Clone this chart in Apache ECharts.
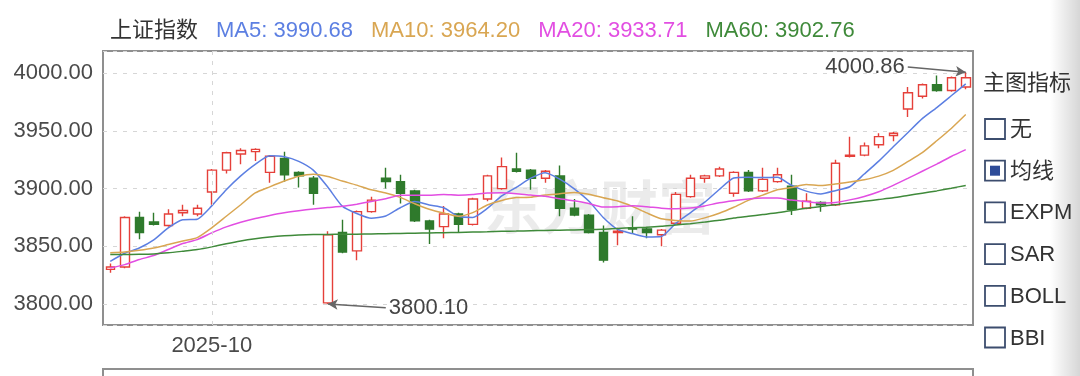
<!DOCTYPE html>
<html>
<head>
<meta charset="utf-8">
<script src="https://cdn.jsdelivr.net/npm/echarts@6/dist/echarts.min.js"></script>
<style>
html, body { margin: 0; padding: 0; background: #fff; }
#chart { width: 1080px; height: 376px; }
</style>
</head>
<body>
<div id="chart"></div>
<script>
// trading days shown on the chart
const dates = [
  '2025-09-22','2025-09-23','2025-09-24','2025-09-25','2025-09-26','2025-09-29','2025-09-30',
  '2025-10-09','2025-10-10','2025-10-13','2025-10-14','2025-10-15','2025-10-16','2025-10-17',
  '2025-10-20','2025-10-21','2025-10-22','2025-10-23','2025-10-24','2025-10-27','2025-10-28',
  '2025-10-29','2025-10-30','2025-10-31','2025-11-03','2025-11-04','2025-11-05','2025-11-06',
  '2025-11-07','2025-11-10','2025-11-11','2025-11-12','2025-11-13','2025-11-14','2025-11-17',
  '2025-11-18','2025-11-19','2025-11-20','2025-11-21','2025-11-24','2025-11-25','2025-11-26',
  '2025-11-27','2025-11-28','2025-12-01','2025-12-02','2025-12-03','2025-12-04','2025-12-05',
  '2025-12-08','2025-12-09','2025-12-10','2025-12-11','2025-12-12','2025-12-15','2025-12-16',
  '2025-12-17','2025-12-18','2025-12-19','2025-12-22'
];

const opens = [
  3830,3832,3875,3871,3868,3879,3878,3897,3916,3930,
  3932,3914,3926,3914,3909,3801,3862,3846,3880,3909,
  3906,3898,3872,3867,3878,3869,3891,3900,3917,3916,
  3909,3911,3883,3877,3862,3862,3866,3865,3860,3870,
  3893,3909,3911,3896,3914,3898,3906,3902,3883,3888,
  3886,3928,3929,3938,3946,3969,3980,3990,3985,3988
];
const closes = [
  3832,3875,3862,3869,3878,3881,3883,3916,3931,3933,
  3934,3928,3912,3911,3896,3860,3845,3880,3890,3906,
  3896,3872,3865,3878,3869,3891,3911,3919,3915,3909,
  3915,3883,3877,3862,3838,3863,3865,3862,3864,3895,
  3909,3911,3917,3914,3898,3908,3912,3882,3889,3886,
  3922,3929,3937,3945,3948,3983,3990,3985,3996,3996
];
const lows = [
  3827,3831,3856,3868,3867,3876,3876,3886,3913,3921,
  3924,3905,3906,3901,3886,3800.10,3844,3838,3879,3900,
  3887,3871,3852,3857,3862,3868,3889,3899,3914,3899,
  3905,3876,3876,3861,3836,3851,3861,3857,3850,3869,
  3892,3905,3910,3893,3897,3897,3905,3877,3882,3880,
  3885,3927,3928,3935,3941,3962,3978,3984,3984,3986
];
const highs = [
  3835,3876,3880,3879,3882,3886,3886,3917,3932,3935,
  3935,3929,3932,3915,3911,3863,3873,3881,3893,3918,
  3912,3899,3873,3885,3879,3892,3912,3927,3931,3917,
  3916,3920,3891,3878,3868,3866,3876,3867,3865,3897,
  3912,3912,3919,3915,3916,3918,3918,3912,3896,3889,
  3925,3945,3940,3948,3949,3988,3991,3998,3997,4000.86
];

const ma5 = [
  3837,3844,3848.5,3855.5,3866,3873,3873.5,3885,3899,3911,
  3921,3928.4,3927.6,3923.6,3916,3901.4,3884.8,3878.4,3874.2,3876.2,
  3883.4,3888.8,3885.8,3883.4,3876,3875,3882.8,3893.6,3901,3909,
  3913.8,3908.2,3899.8,3889.2,3875,3864.6,3861,3858,3858.4,3869.8,
  3879,3888.2,3899.2,3909.2,3909.8,3909.6,3909.8,3902.8,3897.8,3895.4,
  3898.2,3901.6,3912.6,3923.8,3936.2,3948.4,3960.6,3970.2,3980.4,3990.68
];
const ma10 = [
  3844.3,3845,3846.5,3848.5,3851.5,3854.5,3857.5,3866,3876,3886,
  3896.2,3901.5,3906.5,3910.7,3912.5,3910.4,3906.6,3903,3898.9,3896.2,
  3892.4,3886.8,3882.1,3878.8,3876.1,3879.2,3885.8,3889.7,3892.2,3892.5,
  3894.4,3895.5,3896.7,3895.1,3892,3889.2,3884.6,3878.9,3873.8,3872.4,
  3871.8,3874.6,3878.6,3883.8,3889.8,3894.3,3899,3901,3903.5,3902.6,
  3903.9,3905.7,3907.7,3910.8,3915.8,3923.3,3931.1,3941.4,3952.1,3964.20
];
const ma20 = [
  3831.2,3834.1,3838.5,3842,3847.2,3852.4,3855.8,3861.6,3866.8,3870.9,
  3874.1,3876.7,3879,3880.8,3882.3,3883.5,3884.6,3886.5,3888.8,3891.1,
  3894.3,3894.2,3894.3,3894.8,3894.3,3894.8,3896.2,3896.4,3895.6,3894.4,
  3893.4,3891.2,3889.4,3887,3884,3884.2,3885.2,3884.3,3883,3882.5,
  3883.1,3885,3887.7,3889.5,3890.9,3891.8,3891.8,3890,3888.7,3887.5,
  3887.9,3890.2,3893.2,3897.3,3902.8,3908.8,3915,3921.2,3927.8,3933.71
];
const ma60 = [
  3842.8,3842.8,3843,3843.4,3844.3,3845.7,3847.2,3849.5,3852.2,3854.6,
  3856.5,3858,3859.1,3859.8,3860.2,3860.3,3860.4,3860.5,3860.7,3860.9,
  3861.1,3861.3,3861.6,3861.8,3862,3862.3,3862.6,3863,3863.2,3863.5,
  3863.7,3864,3864.2,3864.5,3864.8,3865.5,3866,3866.5,3867.3,3868.5,
  3869.6,3871,3872.5,3874.5,3876,3877.5,3879,3881,3883,3884.5,
  3886,3887.5,3889,3890.5,3892,3894,3896,3898,3900.3,3902.76
];

const indexName = '上证指数';
const monthTicks = ['2025-10'];
const indicatorTitle = '主图指标';
const indicatorNames = ['无', '均线', 'EXPM', 'SAR', 'BOLL', 'BBI'];
const indicatorChecked = '均线';

const FONT = "'Liberation Sans', 'Noto Sans CJK SC', sans-serif";
const UP = '#e5403a';
const DOWN = '#2f7a2c';

const maList = [
  { label: 'MA5', values: ma5, color: '#5c7fe2' },
  { label: 'MA10', values: ma10, color: '#d9a652' },
  { label: 'MA20', values: ma20, color: '#e24ee2' },
  { label: 'MA60', values: ma60, color: '#3f8a3a' }
];
maList.forEach(m => { m.name = m.label + ': ' + m.values[m.values.length - 1].toFixed(2); });

const kData = dates.map((d, i) => [opens[i], closes[i], lows[i], highs[i]]);

// extreme points for the arrow annotations
const lowIdx = lows.indexOf(Math.min(...lows));
const highIdx = highs.indexOf(Math.max(...highs));

// first trading day of each labelled month
const monthStart = dates.map((d, i) =>
  monthTicks.includes(d.slice(0, 7)) && (i === 0 || dates[i - 1].slice(0, 7) !== d.slice(0, 7)));

const labelStyle = { color: '#444', fontSize: 22, fontFamily: FONT };

// right-hand indicator panel
const panel = [];
panel.push({
  type: 'text', x: 983, y: 84,
  style: { text: indicatorTitle, font: '22px ' + FONT, fill: '#333', verticalAlign: 'middle' }
});
indicatorNames.forEach((n, i) => {
  const cy = 129 + i * 41.7;
  panel.push({
    type: 'rect', shape: { x: 985, y: cy - 10, width: 20, height: 20 },
    style: { fill: '#fff', stroke: '#3c4d6e', lineWidth: 1.8 }
  });
  if (n === indicatorChecked) {
    panel.push({
      type: 'rect', shape: { x: 990, y: cy - 5, width: 10, height: 10 },
      style: { fill: '#2d4b98' }
    });
  }
  panel.push({
    type: 'text', x: 1010, y: cy + 1,
    style: { text: n, font: '22px ' + FONT, fill: '#333', verticalAlign: 'middle' }
  });
});

const chart = echarts.init(document.getElementById('chart'));
chart.setOption({
  animation: false,
  backgroundColor: '#fff',
  textStyle: { fontFamily: FONT },
  legend: {
    left: 100,
    top: 15,
    icon: 'none',
    itemWidth: 0,
    itemHeight: 22,
    itemGap: 13,
    selectedMode: false,
    textStyle: { fontSize: 22, fontFamily: FONT },
    data: [{ name: indexName, textStyle: { color: '#333' } }]
      .concat(maList.map(m => ({ name: m.name, textStyle: { color: m.color } })))
  },
  grid: {
    left: 103, right: 107, top: 51, bottom: 51,
    show: true, borderColor: '#8f8f8f', borderWidth: 2
  },
  xAxis: {
    type: 'category',
    data: dates,
    boundaryGap: true,
    axisLine: { show: false },
    axisTick: { show: false },
    splitLine: { show: false },
    axisLabel: {
      interval: (i) => monthStart[i],
      formatter: (v) => v.slice(0, 7),
      margin: 10,
      color: '#4a4a4a', fontSize: 22, fontFamily: FONT
    }
  },
  yAxis: {
    type: 'value',
    min: 3781.8,
    max: 4019.2,
    splitNumber: 5,
    axisLine: { show: false },
    axisTick: { show: false },
    axisLabel: {
      showMinLabel: false, showMaxLabel: false,
      formatter: (v) => v.toFixed(2),
      margin: 10,
      color: '#4a4a4a', fontSize: 22, fontFamily: FONT
    },
    splitLine: { lineStyle: { color: '#d6d6d6', type: [4, 6], width: 1 } }
  },
  series: [
    {
      name: indexName,
      type: 'candlestick',
      data: kData,
      barWidth: 9,
      itemStyle: {
        color: '#fff', color0: DOWN,
        borderColor: UP, borderColor0: DOWN, borderWidth: 1.4
      },
      markLine: {
        silent: true,
        symbol: ['none', 'none'],
        animation: false,
        lineStyle: { color: '#666', width: 1.5, type: 'solid' },
        data: [
          // month divider through the first labelled day
          ...dates.filter((d, i) => monthStart[i]).map(d => ({
            xAxis: d,
            label: { show: false },
            lineStyle: { color: '#d6d6d6', type: [4, 6], width: 1 }
          })),
          [
            { coord: [lowIdx, lows[lowIdx]], symbol: 'arrow', symbolSize: [8, 10] },
            {
              coord: [lowIdx + 3.8, lows[lowIdx] - 3.3], symbol: 'none',
              label: { show: true, position: 'end', distance: 3, formatter: lows[lowIdx].toFixed(2), ...labelStyle }
            }
          ],
          [
            { coord: [highIdx, highs[highIdx]], symbol: 'arrow', symbolSize: [8, 10] },
            {
              coord: [highIdx - 3.75, highs[highIdx] + 4.4], symbol: 'none',
              label: { show: true, position: 'end', distance: 3, formatter: highs[highIdx].toFixed(2), ...labelStyle }
            }
          ]
        ]
      }
    },
    ...maList.map(m => ({
      name: m.name,
      type: 'line',
      data: m.values,
      symbol: 'none',
      smooth: 0.2,
      lineStyle: { color: m.color, width: 1.5 },
      itemStyle: { color: m.color },
      z: 3
    }))
  ],
  graphic: [
    // faint watermark
    {
      type: 'text', x: 600, y: 213, z: -1,
      style: { text: '东方财富', font: 'bold 58px ' + FONT, fill: 'rgba(0,0,0,0.08)', align: 'center', verticalAlign: 'middle' }
    },
    // top of the lower pane
    {
      type: 'rect', shape: { x: 103, y: 369, width: 870, height: 30 },
      style: { fill: 'none', stroke: '#8f8f8f', lineWidth: 2 }
    },
    // panel shading at the right edge
    {
      type: 'rect', shape: { x: 1050, y: 0, width: 30, height: 376 },
      style: {
        fill: new echarts.graphic.LinearGradient(0, 0, 1, 0, [
          { offset: 0, color: 'rgba(0,0,0,0)' },
          { offset: 1, color: 'rgba(0,0,0,0.16)' }
        ])
      }
    },
    ...panel
  ]
});
</script>
</body>
</html>
